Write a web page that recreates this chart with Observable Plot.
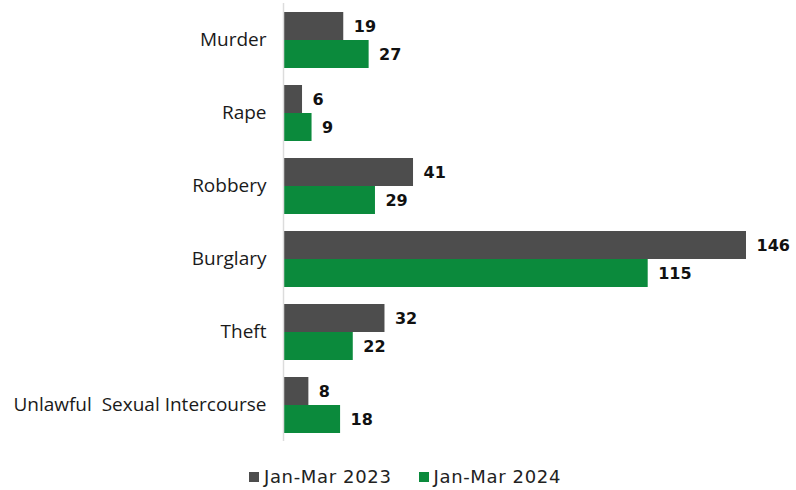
<!DOCTYPE html>
<html>
<head>
<meta charset="utf-8">
<script src="https://cdn.jsdelivr.net/npm/d3@7"></script>
<script src="https://cdn.jsdelivr.net/npm/@observablehq/plot@0.6"></script>
<style>
  html, body { margin: 0; padding: 0; background: #fff; }
  #chart { width: 796px; height: 490px; position: relative; font-family: "Open Sans", "Noto Sans", sans-serif; }
  .legend { position: absolute; top: 466px; left: 0; width: 796px; display: flex; justify-content: center; gap: 27px; font-family: "DejaVu Sans", sans-serif; font-size: 18px; letter-spacing: 0.65px; color: #222; padding-left: 14px; box-sizing: border-box; }
  .legend span { display: inline-flex; align-items: center; }
  .legend i { display: inline-block; width: 10px; height: 10px; margin-right: 5px; }
</style>
</head>
<body>
<div id="chart"></div>
<script>
const categories = ["Murder", "Rape", "Robbery", "Burglary", "Theft", "Unlawful  Sexual Intercourse"];
const seriesNames = ["Jan-Mar 2023", "Jan-Mar 2024"];
const values2023 = [19, 6, 41, 146, 32, 8];
const values2024 = [27, 9, 29, 115, 22, 18];
const colors = ["#4d4d4d", "#0b8a3c"];

const data = [];
categories.forEach((c, i) => {
  data.push({category: c, series: seriesNames[0], value: values2023[i]});
  data.push({category: c, series: seriesNames[1], value: values2024[i]});
});

const chart = Plot.plot({
  width: 796,
  height: 446,
  marginTop: 3,
  marginBottom: 5,
  marginLeft: 283,
  marginRight: 50,
  style: {fontFamily: "'Open Sans', 'Noto Sans', sans-serif", background: "transparent"},
  x: {domain: [0, 146], axis: null},
  y: {domain: seriesNames, axis: null, paddingInner: 0, paddingOuter: 0.26},
  fy: {domain: categories, padding: 0, label: null},
  color: {domain: seriesNames, range: colors},
  facet: {data, y: "category"},
  marks: [
    Plot.axisFy({anchor: "left", tickSize: 0, tickPadding: 17, fontSize: 19, label: null, fill: "#1a1a1a", style: "white-space: pre; letter-spacing: 1.2px"}),
    Plot.barX(data, {x: "value", y: "series", fill: "series"}),
    Plot.ruleX([0], {stroke: "#dcdcdc", strokeWidth: 1.5}),
    Plot.text(data, {x: "value", y: "series", text: d => String(d.value), textAnchor: "start", dx: 10, fontSize: 16, fontWeight: 600, fill: "#111", fontFamily: "DejaVu Sans", style: "letter-spacing: 1.2px"})
  ]
});
document.getElementById("chart").appendChild(chart);
chart.querySelectorAll("text").forEach(t => t.setAttribute("xml:space", "preserve"));

const legend = document.createElement("div");
legend.className = "legend";
seriesNames.forEach((s, i) => {
  const span = document.createElement("span");
  span.innerHTML = `<i style="background:${colors[i]}"></i>${s}`;
  legend.appendChild(span);
});
document.getElementById("chart").appendChild(legend);
</script>
</body>
</html>
